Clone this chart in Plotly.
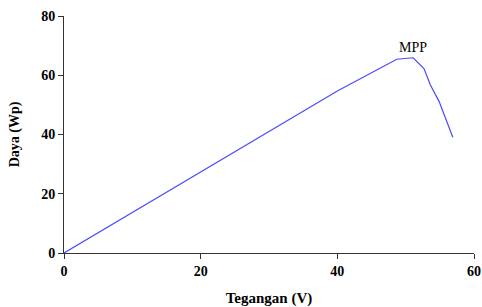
import plotly.graph_objects as go

voltage = [0, 40, 48.7, 51.1, 52.7, 53.6, 54.9, 55.8, 56.9]
power = [0, 54.7, 65.4, 65.9, 62.2, 56.8, 51.1, 45.5, 39.1]
x_ticks = [0, 20, 40, 60]
y_ticks = [0, 20, 40, 60, 80]

font = "Liberation Serif, Times New Roman, serif"
fig = go.Figure()
fig.add_trace(go.Scatter(x=voltage, y=power, mode="lines",
                         line=dict(color="#4a4aff", width=1.2), showlegend=False))
fig.add_annotation(x=51.1, y=65.9, text="MPP", showarrow=False, yshift=10,
                   font=dict(family=font, size=14, color="black"))
fig.update_layout(
    width=482, height=307, margin=dict(l=64, r=8, t=16, b=54),
    paper_bgcolor="white", plot_bgcolor="white",
    font=dict(family=font, color="black"),
    xaxis=dict(range=[0, 60], tickvals=x_ticks, showgrid=False, zeroline=False,
               automargin=False,
               showline=True, linecolor="#333", linewidth=1, ticks="outside",
               ticklen=5, tickcolor="#333",
               tickfont=dict(family=font, size=14, weight="bold"),
               title=dict(text="<b>Tegangan (V)</b>", font=dict(family=font, size=15), standoff=15)),
    yaxis=dict(range=[0, 80], tickvals=y_ticks, showgrid=False, zeroline=False,
               automargin=False,
               showline=True, linecolor="#333", linewidth=1, ticks="outside",
               ticklen=5, tickcolor="#333",
               tickfont=dict(family=font, size=14, weight="bold"),
               title=dict(text="<b>Daya (Wp)</b>", font=dict(family=font, size=14), standoff=18)),
)
fig.write_html(
    "out.html",
    config={"displayModeBar": False},
    post_script="document.body.style.margin='0';document.documentElement.style.overflow='hidden';",
)
